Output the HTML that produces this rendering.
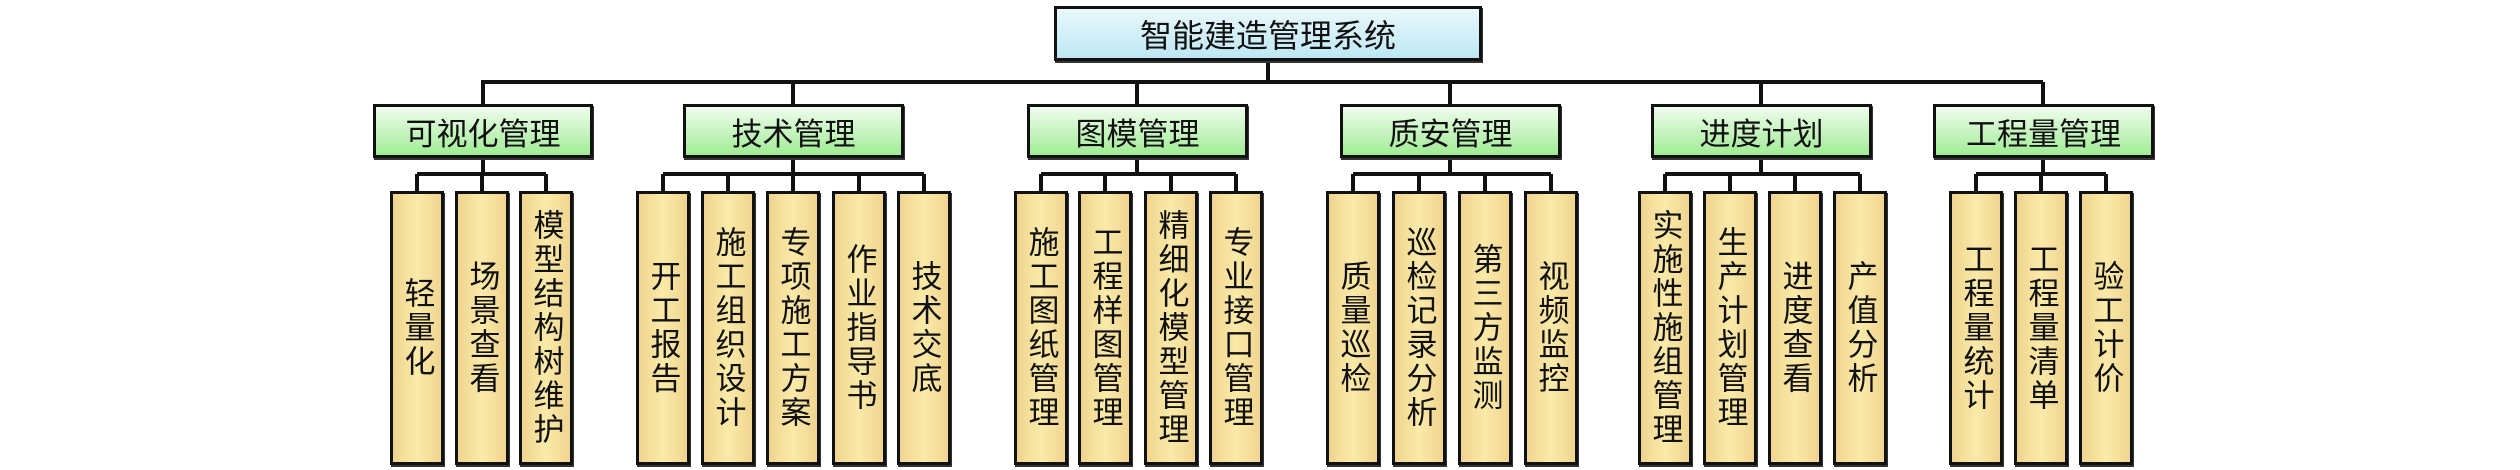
<!DOCTYPE html>
<html><head><meta charset="utf-8"><style>
body{margin:0;width:2520px;height:470px;background:#fff;position:relative;overflow:hidden;font-family:"Liberation Sans","Noto Sans CJK SC",sans-serif;}
.b{position:absolute;box-sizing:border-box;border:3px solid #111;box-shadow:1px 2px 0 #333;display:flex;align-items:center;justify-content:center;color:#111;}
.root{background:linear-gradient(#eaf8fc,#bde7f3);font-size:32px;}
.l2{background:linear-gradient(#f0fdee,#a0ec95);font-size:31px;}
.lf{background:linear-gradient(90deg,#efd590,#fbeaa8 50%,#efd590);font-size:31px;writing-mode:vertical-rl;text-orientation:upright;letter-spacing:3px;top:191px;height:274px;width:54px;}
svg{position:absolute;left:0;top:0}
</style></head><body>
<svg width="2520" height="470" stroke="#111" stroke-width="4" fill="none">
<path d="M1268 61V82M481 82H2043M483 82V104M793 82V104M1137 82V104M1450 82V104M1761 82V104M2043 82V104"/>
<path d="M483 158V174M417 174H546M417 174V191M482 174V191M546 174V191"/>
<path d="M793 158V174M663 174H924M663 174V191M728 174V191M793 174V191M859 174V191M924 174V191"/>
<path d="M1137 158V174M1041 174H1236M1041 174V191M1105 174V191M1171 174V191M1236 174V191"/>
<path d="M1450 158V174M1353 174H1551M1353 174V191M1419 174V191M1485 174V191M1551 174V191"/>
<path d="M1761 158V174M1665 174H1860M1665 174V191M1730 174V191M1795 174V191M1860 174V191"/>
<path d="M2043 158V174M1976 174H2106M1976 174V191M2041 174V191M2106 174V191"/>
</svg>
<div class="b root" style="left:1054px;top:6px;width:428px;height:55px">智能建造管理系统</div>
<div class="b l2" style="left:373px;top:104px;width:220px;height:54px">可视化管理</div>
<div class="b l2" style="left:683px;top:104px;width:221px;height:54px">技术管理</div>
<div class="b l2" style="left:1027px;top:104px;width:221px;height:54px">图模管理</div>
<div class="b l2" style="left:1340px;top:104px;width:221px;height:54px">质安管理</div>
<div class="b l2" style="left:1651px;top:104px;width:221px;height:54px">进度计划</div>
<div class="b l2" style="left:1933px;top:104px;width:221px;height:54px">工程量管理</div>

<div class="b lf" style="left:390px">轻量化</div>
<div class="b lf" style="left:455px">场景查看</div>
<div class="b lf" style="left:519px">模型结构树维护</div>

<div class="b lf" style="left:636px">开工报告</div>
<div class="b lf" style="left:701px">施工组织设计</div>
<div class="b lf" style="left:766px">专项施工方案</div>
<div class="b lf" style="left:832px">作业指导书</div>
<div class="b lf" style="left:897px">技术交底</div>

<div class="b lf" style="left:1014px">施工图纸管理</div>
<div class="b lf" style="left:1078px">工程样图管理</div>
<div class="b lf" style="left:1144px">精细化模型管理</div>
<div class="b lf" style="left:1209px">专业接口管理</div>

<div class="b lf" style="left:1326px">质量巡检</div>
<div class="b lf" style="left:1392px">巡检记录分析</div>
<div class="b lf" style="left:1458px">第三方监测</div>
<div class="b lf" style="left:1524px">视频监控</div>

<div class="b lf" style="left:1638px">实施性施组管理</div>
<div class="b lf" style="left:1703px">生产计划管理</div>
<div class="b lf" style="left:1768px">进度查看</div>
<div class="b lf" style="left:1833px">产值分析</div>

<div class="b lf" style="left:1949px">工程量统计</div>
<div class="b lf" style="left:2014px">工程量清单</div>
<div class="b lf" style="left:2079px">验工计价</div>
</body></html>
